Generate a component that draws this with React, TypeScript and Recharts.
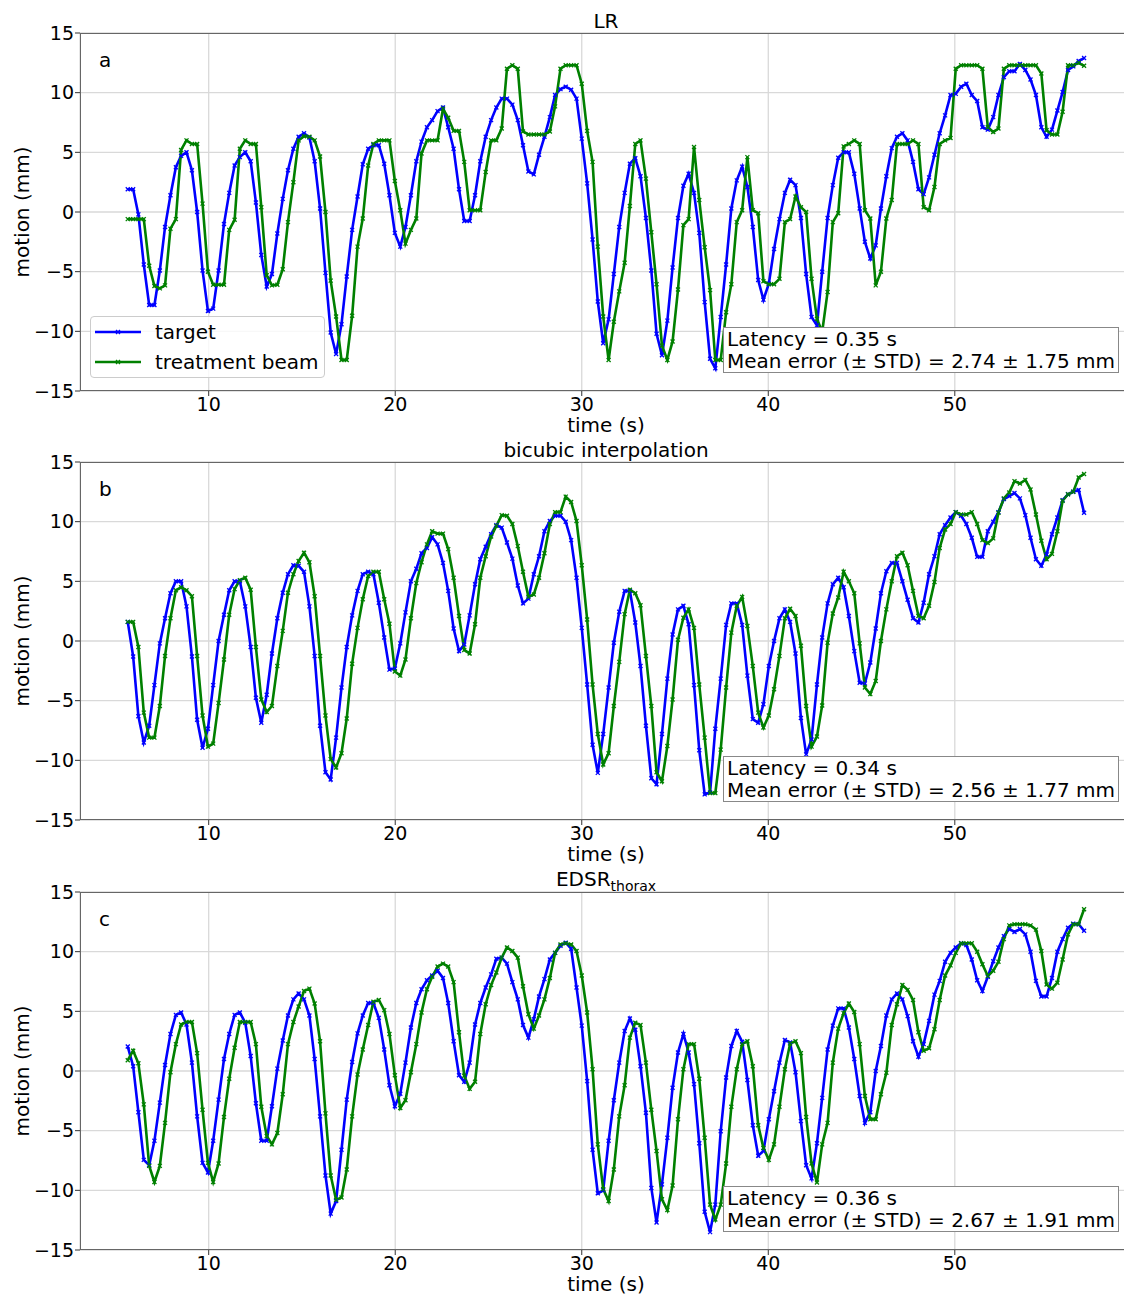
import React from "react";
import { LineChart, Line, XAxis, YAxis, CartesianGrid } from "recharts";

// sample times (s), shared by every series
const times = [
  5.66, 5.95, 6.23, 6.52, 6.81, 7.09, 7.38, 7.66, 7.95, 8.24,
  8.52, 8.81, 9.1, 9.38, 9.67, 9.96, 10.24, 10.53, 10.82, 11.1,
  11.39, 11.67, 11.96, 12.25, 12.53, 12.82, 13.11, 13.39, 13.68, 13.97,
  14.25, 14.54, 14.82, 15.11, 15.4, 15.68, 15.97, 16.26, 16.54, 16.83,
  17.12, 17.4, 17.69, 17.98, 18.26, 18.55, 18.83, 19.12, 19.41, 19.69,
  19.98, 20.27, 20.55, 20.84, 21.13, 21.41, 21.7, 21.98, 22.27, 22.56,
  22.84, 23.13, 23.42, 23.7, 23.99, 24.28, 24.56, 24.85, 25.14, 25.42,
  25.71, 25.99, 26.28, 26.57, 26.85, 27.14, 27.43, 27.71, 28.0, 28.29,
  28.57, 28.86, 29.14, 29.43, 29.72, 30.0, 30.29, 30.58, 30.86, 31.15,
  31.44, 31.72, 32.01, 32.3, 32.58, 32.87, 33.15, 33.44, 33.73, 34.01,
  34.3, 34.59, 34.87, 35.16, 35.45, 35.73, 36.02, 36.3, 36.59, 36.88,
  37.16, 37.45, 37.74, 38.02, 38.31, 38.6, 38.88, 39.17, 39.46, 39.74,
  40.03, 40.31, 40.6, 40.89, 41.17, 41.46, 41.75, 42.03, 42.32, 42.61,
  42.89, 43.18, 43.46, 43.75, 44.04, 44.32, 44.61, 44.9, 45.18, 45.47,
  45.76, 46.04, 46.33, 46.62, 46.9, 47.19, 47.47, 47.76, 48.05, 48.33,
  48.62, 48.91, 49.19, 49.48, 49.77, 50.05, 50.34, 50.62, 50.91, 51.2,
  51.48, 51.77, 52.06, 52.34, 52.63, 52.92, 53.2, 53.49, 53.78, 54.06,
  54.35, 54.64, 54.92, 55.21, 55.5, 55.78, 56.07, 56.35, 56.64, 56.93,
];

// panel a: LR
const lrTarget = [
  1.9, 1.9, -0.2, -4.4, -7.8, -7.8, -4.9, -1.25, 1.4, 3.75,
  4.7, 5.0, 3.5, 0, -4.9, -8.3, -8.1, -4.9, -1.0, 1.6,
  3.9, 4.6, 5.0, 4.25, 0.8, -3.6, -6.25, -5.2, -1.8, 1.1,
  3.5, 5.3, 6.3, 6.6, 6.25, 4.25, 0.3, -5.1, -10.1, -11.9,
  -9.4, -5.4, -1.5, 1.3, 4.0, 5.3, 5.6, 5.6, 4.05, 1.4,
  -1.75, -2.9, -1.25, 1.4, 4.25, 5.9, 7.1, 7.7, 8.45, 8.75,
  7.1, 5.3, 1.9, -0.75, -0.75, 1.4, 4.25, 6.3, 7.7, 8.75,
  9.5, 9.5, 9.0, 7.7, 5.6, 3.4, 3.15, 4.8, 6.3, 7.95,
  9.8, 10.3, 10.5, 10.25, 9.5, 6.15, 2.4, -2.3, -7.5, -11.0,
  -9.0, -5.2, -1.25, 1.6, 4.05, 4.5, 3.0, -0.5, -4.9, -10.2,
  -12.0, -9.1, -4.65, -0.5, 2.2, 3.2, 1.6, -1.75, -7.55, -12.3,
  -13.1, -8.8, -4.4, 0.3, 2.65, 3.8, 2.1, -1.25, -5.7, -7.35,
  -6.0, -3.1, -0.6, 1.6, 2.7, 2.25, -0.5, -5.2, -8.8, -9.5,
  -5.0, -0.5, 2.25, 4.55, 5.0, 5.0, 3.2, 0.3, -2.5, -3.9,
  -2.8, 0.3, 3.0, 5.35, 6.3, 6.6, 6.0, 4.2, 1.9, 1.5,
  2.9, 4.8, 6.6, 8.1, 9.8, 9.9, 10.5, 10.75, 9.8, 9.3,
  7.1, 6.9, 7.95, 9.8, 11.3, 11.8, 11.8, 12.4, 11.9, 11.1,
  9.8, 7.1, 6.3, 6.9, 8.5, 10.05, 11.9, 12.2, 12.65, 12.9,
];
const lrBeam = [
  -0.6, -0.6, -0.6, -0.6, -4.5, -6.2, -6.4, -6.15, -1.4, -0.6,
  5.2, 6.0, 5.7, 5.7, 0.7, -5.0, -6.1, -6.1, -6.1, -1.5,
  -0.65, 5.3, 6.0, 5.7, 5.7, 0.4, -5.3, -6.15, -6.1, -4.8,
  -0.85, 2.5, 6.0, 6.35, 6.3, 6.0, 4.65, 0, -5.75, -8.75,
  -12.4, -12.4, -8.7, -2.9, -0.55, 3.9, 5.7, 6.0, 6.0, 6.0,
  2.6, 0.15, -2.65, -1.5, -0.55, 4.9, 6.0, 6.0, 6.0, 8.65,
  7.9, 6.8, 6.8, 4.2, 0.15, 0.15, 0.15, 3.35, 6.0, 6.0,
  7.0, 12.0, 12.3, 12.0, 6.75, 6.5, 6.5, 6.5, 6.5, 6.75,
  8.85, 12.0, 12.3, 12.3, 12.3, 10.75, 6.8, 4.2, -2.9, -8.75,
  -12.4, -9.2, -6.65, -4.25, 0.5, 5.7, 6.0, 2.8, -1.7, -6.05,
  -11.2, -12.4, -10.85, -6.5, -1.1, -0.6, 5.45, 1.0, -2.95, -6.55,
  -12.4, -12.4, -8.4, -6.05, -0.85, 0.15, 4.6, 0.15, -0.1, -5.8,
  -6.05, -6.05, -5.6, -0.85, -0.6, 1.3, 0.4, 0, -5.6, -8.95,
  -10.05, -6.7, -0.85, -0.1, 5.5, 5.7, 6.0, 5.7, 0.15, -0.55,
  -6.15, -5.0, -0.55, 1.0, 5.7, 5.7, 5.7, 6.0, 5.7, 0.4,
  0.15, 2.1, 5.7, 6.0, 6.2, 12.0, 12.3, 12.3, 12.3, 12.3,
  12.0, 7.1, 6.7, 7.0, 12.0, 12.3, 12.3, 12.3, 12.3, 12.3,
  12.3, 11.6, 6.85, 6.5, 6.5, 8.4, 12.3, 12.3, 12.5, 12.25,
];

// panel b: bicubic interpolation
const bicTarget = [
  1.6, -1.3, -6.3, -8.5, -7.1, -3.7, -0.2, 1.9, 4.0, 5.0,
  5.0, 2.9, -1.3, -6.6, -8.95, -7.35, -3.7, 0, 2.2, 4.25,
  5.0, 5.0, 2.9, -0.5, -4.75, -6.85, -4.5, -1.05, 1.9, 4.05,
  5.6, 6.35, 6.3, 5.8, 2.9, -1.25, -7.1, -11.0, -11.6, -8.1,
  -3.9, -0.5, 2.15, 4.2, 5.6, 5.8, 5.6, 3.2, 0.3, -2.4,
  -2.3, -0.2, 2.4, 5.0, 6.05, 7.35, 7.8, 8.7, 8.1, 6.55,
  4.2, 1.05, -0.85, -0.3, 2.15, 4.75, 6.85, 7.9, 8.95, 9.7,
  9.5, 8.25, 6.9, 4.65, 3.15, 3.55, 5.6, 7.1, 9.2, 10.05,
  10.5, 10.5, 10.0, 8.45, 5.3, 1.1, -3.65, -8.7, -11.05, -7.8,
  -3.9, -0.15, 2.45, 4.2, 4.2, 1.55, -2.1, -7.1, -11.5, -12.0,
  -7.8, -3.15, 0.55, 2.65, 2.95, 1.4, -3.7, -9.15, -12.85, -12.7,
  -7.35, -3.15, 1.35, 3.15, 3.15, 1.35, -2.9, -6.55, -6.85, -5.3,
  -2.1, 0, 1.9, 2.65, 1.6, -1.05, -6.45, -9.5, -8.25, -3.65,
  0.3, 3.15, 4.75, 5.3, 4.5, 2.1, -0.85, -3.5, -3.55, -1.8,
  1.05, 4.0, 5.85, 6.55, 6.55, 5.0, 3.45, 1.9, 1.55, 3.2,
  5.6, 7.1, 8.95, 9.7, 10.35, 10.8, 10.5, 9.8, 8.65, 7.05,
  7.05, 9.2, 10.0, 10.8, 11.9, 12.15, 12.4, 11.95, 10.55, 8.65,
  6.85, 6.3, 7.25, 8.95, 10.35, 11.8, 12.3, 12.5, 12.65, 10.75,
];
const bicBeam = [
  1.6, 1.6, -0.5, -6.0, -8.1, -8.1, -5.45, -1.25, 1.9, 4.25,
  4.5, 4.25, 3.75, -1.25, -6.25, -8.85, -8.6, -5.2, -1.55, 2.2,
  4.35, 5.1, 5.3, 4.3, -0.5, -4.9, -5.95, -5.45, -2.1, 0.85,
  4.05, 5.6, 6.7, 7.4, 6.6, 3.75, -1.25, -6.25, -9.9, -10.6,
  -9.4, -6.5, -1.9, 1.1, 3.5, 5.45, 5.8, 5.8, 3.5, 1.45,
  -2.55, -2.9, -1.55, 1.9, 4.85, 6.6, 8.1, 9.2, 9.0, 9.0,
  7.7, 5.3, 2.1, -0.75, -1.05, 1.4, 5.3, 7.1, 8.75, 9.65,
  10.55, 10.5, 9.8, 7.95, 5.8, 3.7, 3.9, 5.3, 7.35, 9.8,
  10.8, 10.8, 12.1, 11.65, 10.05, 6.35, 1.8, -3.65, -7.8, -10.35,
  -9.4, -5.45, -1.75, 2.25, 4.3, 4.0, 3.0, -1.25, -5.45, -11.0,
  -11.75, -8.8, -4.9, 0.1, 1.95, 2.65, 1.1, -3.65, -8.1, -12.75,
  -12.75, -9.1, -3.9, 0.7, 2.95, 3.7, 1.25, -2.1, -6.0, -7.25,
  -6.25, -4.05, -1.25, 1.9, 2.7, 2.1, -0.4, -5.45, -8.85, -8.0,
  -5.4, -0.15, 2.3, 3.65, 5.8, 5.0, 4.0, -0.2, -3.9, -4.45,
  -3.35, 0, 2.65, 5.0, 7.1, 7.4, 6.35, 4.2, 2.1, 1.9,
  2.95, 4.95, 7.8, 9.35, 9.8, 10.8, 10.6, 10.6, 10.8, 9.8,
  8.45, 8.2, 8.6, 10.75, 11.95, 12.45, 13.4, 13.2, 13.5, 12.7,
  10.6, 8.4, 6.85, 7.3, 9.2, 11.75, 12.3, 12.5, 13.7, 14.0,
];

// panel c: EDSR thorax
const edsrTarget = [
  2.05, 0.4, -3.45, -7.45, -7.9, -5.85, -2.65, 0.5, 3.1, 4.7,
  4.9, 3.9, 0.7, -3.8, -7.7, -8.5, -5.85, -2.4, 1.0, 3.1,
  4.7, 4.9, 4.05, 1.25, -2.7, -5.85, -5.85, -2.95, 0.2, 2.55,
  4.65, 6.0, 6.5, 6.0, 4.65, 1.0, -3.8, -8.75, -11.95, -10.9,
  -6.6, -2.4, 0.75, 3.15, 4.65, 5.7, 5.7, 4.45, 1.8, -1.2,
  -2.95, -1.9, 0.7, 3.65, 5.7, 6.85, 7.6, 8.0, 8.4, 7.8,
  5.7, 2.5, -0.35, -0.9, 0.7, 3.9, 5.7, 7.0, 8.1, 9.4,
  9.5, 9.0, 7.45, 6.0, 3.85, 2.8, 4.35, 6.25, 7.7, 9.35,
  9.9, 10.5, 10.75, 10.25, 7.0, 3.8, -0.85, -6.6, -10.25, -10.0,
  -5.85, -2.45, 0.7, 3.35, 4.4, 3.45, 0.4, -3.5, -9.8, -12.7,
  -9.5, -5.6, -1.4, 1.55, 3.1, 1.55, -1.1, -6.05, -11.8, -13.5,
  -11.2, -5.05, -0.55, 2.1, 3.35, 2.45, -0.75, -4.55, -7.1, -6.7,
  -4.05, -1.7, 0.7, 2.6, 2.4, -0.1, -4.2, -7.9, -9.0, -6.05,
  -2.25, 1.8, 3.8, 5.25, 5.25, 3.65, 1.0, -2.1, -4.35, -3.45,
  0, 2.1, 4.65, 6.0, 6.5, 6.0, 4.6, 2.5, 1.2, 2.25,
  4.2, 6.4, 7.55, 9.15, 9.9, 10.35, 10.7, 10.55, 9.35, 7.6,
  6.7, 7.9, 9.2, 10.35, 11.3, 11.9, 11.65, 11.9, 11.45, 10.0,
  7.55, 6.25, 6.25, 7.8, 10.0, 11.05, 12.0, 12.35, 12.3, 11.75,
];
const edsrBeam = [
  0.9, 1.7, 0.65, -2.8, -7.95, -9.3, -7.95, -4.35, -0.1, 2.25,
  3.9, 4.1, 4.1, 1.5, -3.25, -7.7, -9.3, -7.75, -3.85, -0.65,
  1.95, 4.1, 4.1, 4.1, 2.25, -3.0, -5.45, -6.15, -5.2, -1.95,
  2.25, 4.1, 5.4, 6.7, 6.9, 5.65, 2.5, -3.55, -8.75, -10.8,
  -10.6, -8.25, -3.8, -0.3, 1.8, 3.85, 5.8, 5.95, 5.1, 3.1,
  -0.35, -3.1, -2.45, -0.1, 2.25, 4.9, 6.85, 7.9, 8.75, 9.0,
  8.75, 7.45, 3.25, -0.4, -1.5, -0.9, 3.1, 5.6, 7.2, 8.25,
  9.5, 10.35, 10.05, 9.5, 7.1, 4.75, 3.55, 4.65, 6.0, 7.8,
  9.9, 10.6, 10.7, 10.6, 10.05, 8.0, 4.9, 0.15, -6.15, -9.9,
  -10.9, -8.25, -3.8, -1.2, 2.8, 4.05, 3.85, 0.7, -3.25, -6.7,
  -10.75, -11.65, -9.6, -4.05, 0.15, 2.25, 2.25, -0.65, -5.6, -11.2,
  -12.45, -11.2, -7.75, -3.0, 0.15, 2.25, 2.5, 0.4, -4.55, -6.45,
  -7.45, -6.15, -3.0, 0.15, 2.3, 2.5, 1.5, -3.85, -7.75, -9.35,
  -6.15, -4.35, 0.7, 3.55, 4.85, 5.65, 4.95, 2.25, -2.1, -4.05,
  -4.05, -1.95, -0.15, 3.85, 5.6, 7.2, 6.8, 5.95, 3.25, 1.7,
  1.9, 3.5, 5.95, 8.0, 8.85, 9.9, 10.7, 10.7, 10.7, 10.0,
  8.95, 7.95, 8.4, 9.15, 11.05, 12.2, 12.3, 12.3, 12.3, 12.2,
  11.85, 10.05, 7.25, 6.9, 7.4, 9.35, 11.45, 12.3, 12.3, 13.55,
];

const xTicks = [10, 20, 30, 40, 50];
const yTicks = [-15, -10, -5, 0, 5, 10, 15];

const FONT = "'DejaVu Sans', sans-serif";
const BLUE = "#0000ff";
const GREEN = "#008000";

const fmtY = (v: number) => (v < 0 ? "\u2212" + Math.abs(v) : String(v));

function crossDot(color: string) {
  return (p: any) => {
    if (p.cx == null || p.cy == null) return <g key={p.index} />;
    const s = 2;
    const d = `M${p.cx - s},${p.cy - s}L${p.cx + s},${p.cy + s}M${p.cx - s},${p.cy + s}L${p.cx + s},${p.cy - s}`;
    return <path key={p.index} d={d} stroke={color} strokeWidth={1.3} fill="none" />;
  };
}

function Handle({ color }: { color: string }) {
  return (
    <svg width={46} height={10} style={{ display: "block" }}>
      <line x1={0} y1={5} x2={46} y2={5} stroke={color} strokeWidth={2.6} />
      <path d="M21,3L25,7M21,7L25,3" stroke={color} strokeWidth={1.3} />
    </svg>
  );
}

function Panel(props: {
  top: number;
  target: number[];
  beam: number[];
  title: React.ReactNode;
  letter: string;
  stats: string[];
  legend?: boolean;
}) {
  const { top, target, beam, title, letter, stats, legend } = props;
  const data = times.map((t, i) => ({ t, target: target[i], beam: beam[i] }));
  const txt: React.CSSProperties = { position: "absolute", fontFamily: FONT, fontSize: 20, color: "#000", whiteSpace: "nowrap" };
  return (
    <div style={{ position: "absolute", left: 0, top, width: 1134, height: 430 }}>
      <LineChart width={1134} height={430} data={data} margin={{ top: 33, right: 2, bottom: 0, left: 0 }}>
        <CartesianGrid stroke="#d9d9d9" strokeWidth={1.3} />
        <XAxis
          dataKey="t"
          type="number"
          domain={[3.1, 59.5]}
          ticks={xTicks}
          allowDataOverflow
          height={39}
          axisLine={false}
          tickSize={5}
          tickMargin={2}
          tickLine={{ stroke: "#333" }}
          tick={{ fill: "#000", fontSize: 19, fontFamily: FONT }}
        />
        <YAxis
          type="number"
          domain={[-15, 15]}
          ticks={yTicks}
          allowDataOverflow
          width={80}
          axisLine={false}
          tickSize={5}
          tickMargin={1}
          tickFormatter={fmtY}
          tickLine={{ stroke: "#333" }}
          tick={{ fill: "#000", fontSize: 19, fontFamily: FONT }}
        />
        <Line type="linear" dataKey="target" stroke={BLUE} strokeWidth={2.6} dot={crossDot(BLUE)} activeDot={false} isAnimationActive={false} />
        <Line type="linear" dataKey="beam" stroke={GREEN} strokeWidth={2.6} dot={crossDot(GREEN)} activeDot={false} isAnimationActive={false} />
      </LineChart>

      <div style={{ position: "absolute", left: 80, top: 33, width: 1052, height: 358, border: "1px solid #666", boxSizing: "border-box", pointerEvents: "none" }} />

      <div style={{ ...txt, left: 606, top: 21, transform: "translate(-50%, -50%)" }}>{title}</div>
      <div style={{ ...txt, left: 99, top: 60, transform: "translateY(-50%)" }}>{letter}</div>
      <div style={{ ...txt, left: 606, top: 425, transform: "translate(-50%, -50%)" }}>time (s)</div>
      <div style={{ ...txt, left: 22, top: 212, transform: "translate(-50%, -50%) rotate(-90deg)" }}>motion (mm)</div>

      <div style={{ ...txt, left: 723, top: 327, padding: "0 3px", lineHeight: "22px", background: "#fff", border: "1px solid #888" }}>
        <div>{stats[0]}</div>
        <div>{stats[1]}</div>
      </div>

      {legend && (
        <div style={{ position: "absolute", left: 90, top: 316, width: 235, height: 62, boxSizing: "border-box", border: "1px solid #ccc", borderRadius: 4, background: "rgba(255,255,255,0.8)" }}>
          <div style={{ position: "absolute", left: 4, top: 10 }}><Handle color={BLUE} /></div>
          <div style={{ ...txt, left: 64, top: 15, transform: "translateY(-50%)" }}>target</div>
          <div style={{ position: "absolute", left: 4, top: 40 }}><Handle color={GREEN} /></div>
          <div style={{ ...txt, left: 64, top: 45, transform: "translateY(-50%)" }}>treatment beam</div>
        </div>
      )}
    </div>
  );
}

export default function App() {
  return (
    <div style={{ position: "absolute", left: 0, top: 0, width: 1124, height: 1295, overflow: "hidden", background: "#fff" }}>
      <Panel
        top={0}
        target={lrTarget}
        beam={lrBeam}
        title="LR"
        letter="a"
        stats={["Latency = 0.35 s", "Mean error (\u00b1 STD) = 2.74 \u00b1 1.75 mm"]}
        legend
      />
      <Panel
        top={429}
        target={bicTarget}
        beam={bicBeam}
        title="bicubic interpolation"
        letter="b"
        stats={["Latency = 0.34 s", "Mean error (\u00b1 STD) = 2.56 \u00b1 1.77 mm"]}
      />
      <Panel
        top={859}
        target={edsrTarget}
        beam={edsrBeam}
        title={<span>EDSR<sub style={{ fontSize: 14 }}>thorax</sub></span>}
        letter="c"
        stats={["Latency = 0.36 s", "Mean error (\u00b1 STD) = 2.67 \u00b1 1.91 mm"]}
      />
    </div>
  );
}
